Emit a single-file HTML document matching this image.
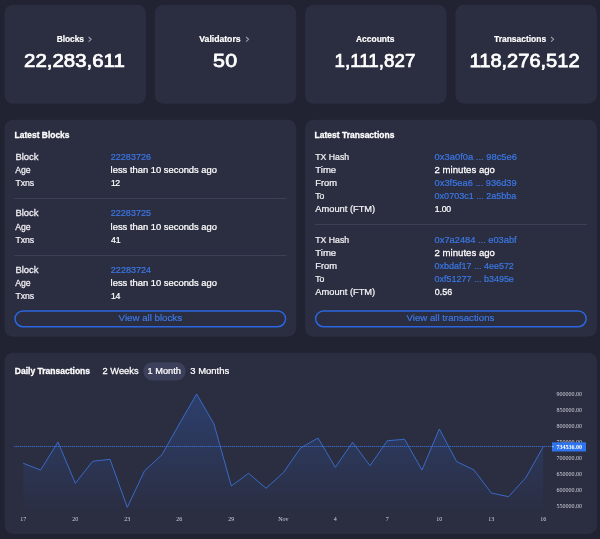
<!DOCTYPE html>
<html><head><meta charset="utf-8"><title>Explorer</title>
<style>
*{margin:0;padding:0}
html,body{width:600px;height:539px;overflow:hidden;background:#212332}
svg{display:block;position:absolute;left:0;top:0;will-change:transform}
text{font-family:"Liberation Sans",sans-serif;fill:#fff;white-space:pre}
.sl{font-size:9px;font-weight:bold;stroke:#fff;stroke-width:0.2px}
.sn{font-size:18.8px;stroke:#fff;stroke-width:0.75px}
.ti{font-size:9px;font-weight:bold;stroke:#fff;stroke-width:0.3px}
.k,.v,.a{font-size:9.35px}
.k{fill:#f1f1f5;stroke:#f1f1f5;stroke-width:0.25px}
.v{stroke:#fff;stroke-width:0.25px}
.a{fill:#3b78e6;stroke:#3b78e6;stroke-width:0.2px}
.ax,.axb{font-family:"Liberation Serif",serif;font-size:6px;fill:#d2d3db}
.axb{fill:#fff;font-weight:bold}
</style></head><body>
<svg width="600" height="539" viewBox="0 0 600 539">
<defs><linearGradient id="g" x1="0" y1="385" x2="0" y2="510" gradientUnits="userSpaceOnUse"><stop offset="0" stop-color="#2f6fe4" stop-opacity="0.29"/><stop offset="1" stop-color="#2f6fe4" stop-opacity="0.02"/></linearGradient></defs>
<rect x="4.5" y="4.8" width="141.5" height="98.9" rx="8.5" fill="#2b2d40"/>
<text transform="translate(56.7,41.8) scale(0.9300,1)" class="sl" style="letter-spacing:-0.026px">Blocks</text>
<path d="M88.6 37.0 l2.6 2.35 l-2.6 2.35" fill="none" stroke="#9a9cad" stroke-width="1.1"/>
<text transform="translate(24.1,67.3) scale(1.0874,1)" class="sn">22,283,611</text>
<rect x="154.8" y="4.8" width="141.5" height="98.9" rx="8.5" fill="#2b2d40"/>
<text transform="translate(199.3,41.8) scale(0.9601,1)" class="sl">Validators</text>
<path d="M246.0 37.0 l2.6 2.35 l-2.6 2.35" fill="none" stroke="#9a9cad" stroke-width="1.1"/>
<text transform="translate(213.0,67.3) scale(1.1400,1)" class="sn" style="letter-spacing:0.202px">50</text>
<rect x="305.1" y="4.8" width="141.5" height="98.9" rx="8.5" fill="#2b2d40"/>
<text transform="translate(356.0,41.8) scale(0.9389,1)" class="sl">Accounts</text>
<text transform="translate(334.6,67.3) scale(0.9994,1)" class="sn">1,111,827</text>
<rect x="455.4" y="4.8" width="141.5" height="98.9" rx="8.5" fill="#2b2d40"/>
<text transform="translate(494.0,41.8) scale(0.9402,1)" class="sl">Transactions</text>
<path d="M551.0 37.0 l2.6 2.35 l-2.6 2.35" fill="none" stroke="#9a9cad" stroke-width="1.1"/>
<text transform="translate(469.6,67.3) scale(1.0664,1)" class="sn">118,276,512</text>
<rect x="4.5" y="119.7" width="291.7" height="217.0" rx="8.5" fill="#2b2d40"/>
<rect x="305.1" y="119.7" width="291.8" height="217.0" rx="8.5" fill="#2b2d40"/>
<rect x="4.5" y="352.7" width="592.4" height="181.2" rx="8.5" fill="#2b2d40"/>
<text transform="translate(14.6,138.1) scale(0.9398,1)" class="ti">Latest Blocks</text>
<text transform="translate(314.6,138.1) scale(0.9441,1)" class="ti">Latest Transactions</text>
<text transform="translate(14.8,374.4) scale(0.9480,1)" class="ti">Daily Transactions</text>
<text transform="translate(15.4,159.6) scale(1.0147,1)" class="k">Block</text>
<text transform="translate(110.8,159.6) scale(0.9663,1)" class="a">22283726</text>
<text transform="translate(15.2,172.75) scale(0.9317,1)" class="k">Age</text>
<text transform="translate(110.6,172.75) scale(1.0053,1)" class="v">less than 10 seconds ago</text>
<text transform="translate(15.4,185.9) scale(0.9300,1)" class="k" style="letter-spacing:-0.038px">Txns</text>
<text transform="translate(110.9,185.9) scale(0.9300,1)" class="v" style="letter-spacing:-0.630px">12</text>
<rect x="14.4" y="198.1" width="271.9" height="0.7" rx="0" fill="#474a61"/>
<text transform="translate(15.4,216.35) scale(1.0147,1)" class="k">Block</text>
<text transform="translate(110.8,216.35) scale(0.9663,1)" class="a">22283725</text>
<text transform="translate(15.2,229.5) scale(0.9317,1)" class="k">Age</text>
<text transform="translate(110.6,229.5) scale(1.0053,1)" class="v">less than 10 seconds ago</text>
<text transform="translate(15.4,242.65) scale(0.9300,1)" class="k" style="letter-spacing:-0.038px">Txns</text>
<text transform="translate(110.9,242.65) scale(0.9327,1)" class="v">41</text>
<rect x="14.4" y="255.0" width="271.9" height="0.7" rx="0" fill="#474a61"/>
<text transform="translate(15.4,273.1) scale(1.0147,1)" class="k">Block</text>
<text transform="translate(110.8,273.1) scale(0.9711,1)" class="a">22283724</text>
<text transform="translate(15.2,286.25) scale(0.9317,1)" class="k">Age</text>
<text transform="translate(110.6,286.25) scale(1.0053,1)" class="v">less than 10 seconds ago</text>
<text transform="translate(15.4,299.40000000000003) scale(0.9300,1)" class="k" style="letter-spacing:-0.038px">Txns</text>
<text transform="translate(110.9,299.40000000000003) scale(0.9300,1)" class="v" style="letter-spacing:-0.308px">14</text>
<text transform="translate(315.3,159.5) scale(0.9320,1)" class="k">TX Hash</text>
<text transform="translate(434.6,159.5) scale(1.0044,1)" class="a">0x3a0f0a ... 98c5e6</text>
<text transform="translate(315.3,172.7) scale(1.0230,1)" class="k">Time</text>
<text transform="translate(434.6,172.7) scale(1.0284,1)" class="v">2 minutes ago</text>
<text transform="translate(315.3,185.9) scale(0.9994,1)" class="k">From</text>
<text transform="translate(434.6,185.9) scale(0.9944,1)" class="a">0x3f5ea6 ... 936d39</text>
<text transform="translate(315.3,199.1) scale(0.9300,1)" class="k" style="letter-spacing:-0.153px">To</text>
<text transform="translate(434.6,199.1) scale(0.9641,1)" class="a">0x0703c1 ... 2a5bba</text>
<text transform="translate(315.3,212.3) scale(0.9957,1)" class="k">Amount (FTM)</text>
<text transform="translate(434.8,212.3) scale(0.9300,1)" class="v" style="letter-spacing:-0.222px">1.00</text>
<rect x="315.1" y="224.15" width="271.8" height="0.7" rx="0" fill="#474a61"/>
<text transform="translate(315.3,242.6) scale(0.9320,1)" class="k">TX Hash</text>
<text transform="translate(434.6,242.6) scale(0.9944,1)" class="a">0x7a2484 ... e03abf</text>
<text transform="translate(315.3,255.79999999999998) scale(1.0230,1)" class="k">Time</text>
<text transform="translate(434.6,255.79999999999998) scale(1.0284,1)" class="v">2 minutes ago</text>
<text transform="translate(315.3,269.0) scale(0.9994,1)" class="k">From</text>
<text transform="translate(434.6,269.0) scale(0.9593,1)" class="a">0xbdaf17 ... 4ee572</text>
<text transform="translate(315.3,282.2) scale(0.9300,1)" class="k" style="letter-spacing:-0.153px">To</text>
<text transform="translate(434.6,282.2) scale(0.9593,1)" class="a">0xf51277 ... b3495e</text>
<text transform="translate(315.3,295.4) scale(0.9957,1)" class="k">Amount (FTM)</text>
<text transform="translate(434.8,295.4) scale(0.9562,1)" class="v">0.56</text>
<rect x="15.025" y="310.93" width="270.55" height="15.75" rx="7.87" fill="none" stroke="#2b66e0" stroke-width="1.45"/>
<rect x="315.62500000000006" y="310.93" width="270.55" height="15.75" rx="7.87" fill="none" stroke="#2b66e0" stroke-width="1.45"/>
<text transform="translate(118.6,321.2) scale(1.0401,1)" class="a">View all blocks</text>
<text transform="translate(406.5,321.2) scale(1.0334,1)" class="a">View all transactions</text>
<rect x="143.3" y="362.2" width="42.3" height="18.2" rx="9.1" fill="#3d405a"/>
<text transform="translate(102.6,374.4) scale(0.9944,1)" class="v">2 Weeks</text>
<text transform="translate(147.6,374.4) scale(0.9857,1)" class="v">1 Month</text>
<text transform="translate(190.3,374.4) scale(1.0115,1)" class="v">3 Months</text>
<polygon points="23.3,510.5 23.3,463.3 40.6,470.0 58.0,442.0 75.3,483.3 92.6,461.3 110.0,459.3 127.3,507.3 144.6,470.7 162.0,454.7 179.3,424.0 196.6,394.0 214.0,424.0 231.3,486.0 248.6,473.3 266.0,488.3 283.3,472.7 300.6,448.0 318.0,438.0 335.3,467.3 352.6,442.3 370.0,465.7 387.3,440.7 404.6,439.3 422.0,470.0 439.3,429.0 456.6,461.5 474.0,470.0 491.3,493.0 508.6,496.7 526.0,477.4 543.3,446.5 543.3,510.5" fill="url(#g)"/>
<polyline points="23.3,463.3 40.6,470.0 58.0,442.0 75.3,483.3 92.6,461.3 110.0,459.3 127.3,507.3 144.6,470.7 162.0,454.7 179.3,424.0 196.6,394.0 214.0,424.0 231.3,486.0 248.6,473.3 266.0,488.3 283.3,472.7 300.6,448.0 318.0,438.0 335.3,467.3 352.6,442.3 370.0,465.7 387.3,440.7 404.6,439.3 422.0,470.0 439.3,429.0 456.6,461.5 474.0,470.0 491.3,493.0 508.6,496.7 526.0,477.4 543.3,446.5" fill="none" stroke="#3a6fd4" stroke-width="0.9" stroke-linejoin="round"/>
<line x1="14" y1="446.5" x2="552" y2="446.5" stroke="#3a70d6" stroke-width="0.6" opacity="0.55"/>
<line x1="14" y1="446.5" x2="552" y2="446.5" stroke="#4279dc" stroke-width="0.7" stroke-dasharray="0.9 1.1"/>
<text transform="translate(556.4,396.0) scale(1.0078,1)" class="ax">900000.00</text>
<text transform="translate(556.4,412.0) scale(1.0078,1)" class="ax">850000.00</text>
<text transform="translate(556.4,428.0) scale(1.0078,1)" class="ax">800000.00</text>
<text transform="translate(556.4,444.0) scale(1.0078,1)" class="ax">750000.00</text>
<text transform="translate(556.4,460.0) scale(1.0078,1)" class="ax">700000.00</text>
<text transform="translate(556.4,476.0) scale(1.0078,1)" class="ax">650000.00</text>
<text transform="translate(556.4,492.0) scale(1.0078,1)" class="ax">600000.00</text>
<text transform="translate(556.4,508.0) scale(1.0078,1)" class="ax">550000.00</text>
<text x="23.3" y="520.9" text-anchor="middle" class="ax">17</text>
<text x="75.3" y="520.9" text-anchor="middle" class="ax">20</text>
<text x="127.3" y="520.9" text-anchor="middle" class="ax">23</text>
<text x="179.3" y="520.9" text-anchor="middle" class="ax">26</text>
<text x="231.3" y="520.9" text-anchor="middle" class="ax">29</text>
<text x="283.3" y="520.9" text-anchor="middle" class="ax">Nov</text>
<text x="335.3" y="520.9" text-anchor="middle" class="ax">4</text>
<text x="387.3" y="520.9" text-anchor="middle" class="ax">7</text>
<text x="439.3" y="520.9" text-anchor="middle" class="ax">10</text>
<text x="491.3" y="520.9" text-anchor="middle" class="ax">13</text>
<text x="543.3" y="520.9" text-anchor="middle" class="ax">16</text>
<rect x="552" y="442.3" width="34" height="9.2" rx="0" fill="#2f74ee"/>
<rect x="552" y="446.5" width="1.6" height="0.6" rx="0" fill="#fff"/>
<text transform="translate(556.4,448.9) scale(1.0078,1)" class="axb">734536.00</text>
</svg>
</body></html>
